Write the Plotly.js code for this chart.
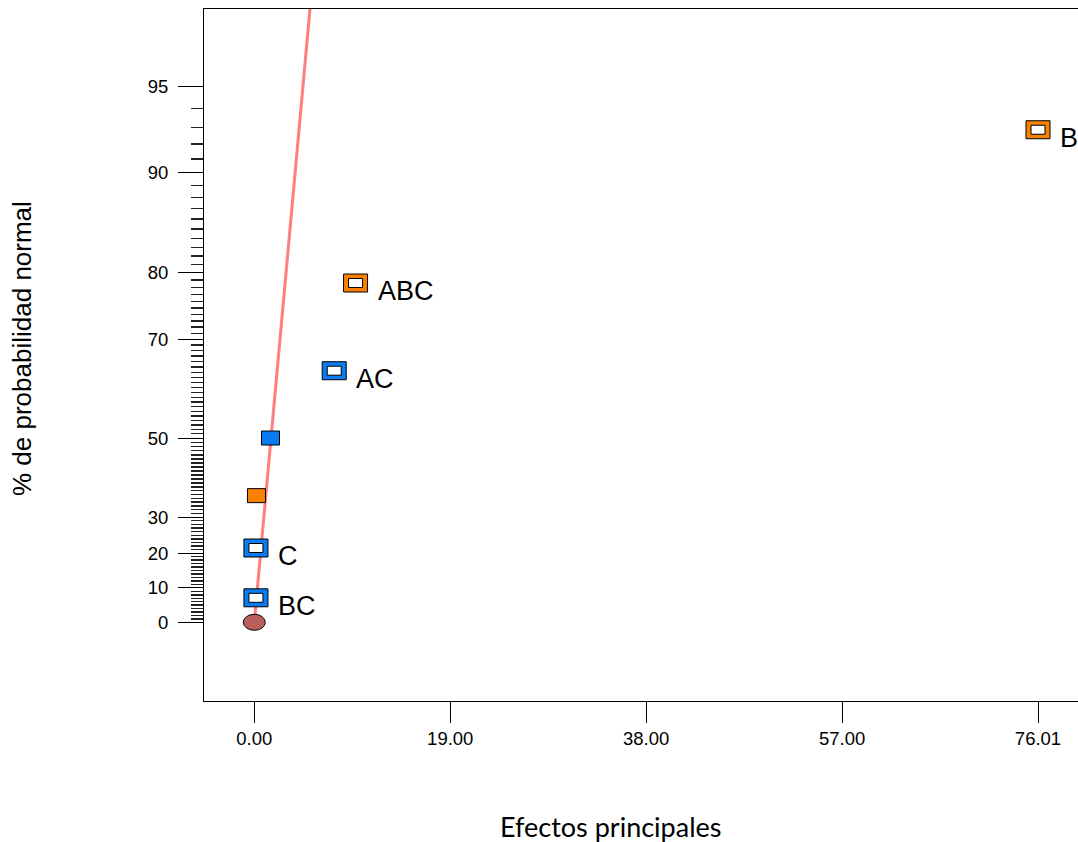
<!DOCTYPE html>
<html>
<head>
<meta charset="utf-8">
<script src="https://cdn.plot.ly/plotly-3.0.1.min.js"></script>
<style>html,body{margin:0;padding:0;background:#fff;}#chart{width:1078px;height:842px;}</style>
</head>
<body>
<div id="chart"></div>
<script>
// ---- data ----
const pointLabels   = ['BC', 'C', '', '', 'AC', 'ABC', 'B'];
const effectValues  = [0.16, 0.16, 0.21, 1.57, 7.75, 9.82, 76.01];
const normalPercent = [7.14, 21.43, 35.71, 50.00, 64.29, 78.57, 92.86];
const effectSign    = ['-', '-', '+', '-', '-', '+', '+'];
const selectedTerm  = [true, true, false, false, true, true, true];
const errorEffect   = [0.0];
const errorPercent  = [0.0];
const fitEffect     = [0.0, 6.0];
const fitPercent    = [0.0, 98.74];
const xTickVals     = [0, 19.0025, 38.005, 57.0075, 76.01];
const xTickText     = ['0.00', '19.00', '38.00', '57.00', '76.01'];
const yMajorPercent = [0, 10, 20, 30, 50, 70, 80, 90, 95];

// ---- half-normal probability scale ----
function invNorm(p) {
  const a = [-3.969683028665376e+01, 2.209460984245205e+02, -2.759285104469687e+02, 1.383577518672690e+02, -3.066479806614716e+01, 2.506628277459239e+00];
  const b = [-5.447609879822406e+01, 1.615858368580409e+02, -1.556989798598866e+02, 6.680131188771972e+01, -1.328068155288572e+01];
  const c = [-7.784894002430293e-03, -3.223964580411365e-01, -2.400758277161838e+00, -2.549732539343734e+00, 4.374664141464968e+00, 2.938163982698783e+00];
  const d = [7.784695709041462e-03, 3.224671290700398e-01, 2.445134137142996e+00, 3.754408661907416e+00];
  const pl = 0.02425, ph = 1 - pl;
  let q, r;
  if (p < pl) { q = Math.sqrt(-2 * Math.log(p)); return (((((c[0]*q+c[1])*q+c[2])*q+c[3])*q+c[4])*q+c[5]) / ((((d[0]*q+d[1])*q+d[2])*q+d[3])*q+1); }
  if (p <= ph) { q = p - 0.5; r = q*q; return (((((a[0]*r+a[1])*r+a[2])*r+a[3])*r+a[4])*r+a[5])*q / (((((b[0]*r+b[1])*r+b[2])*r+b[3])*r+b[4])*r+1); }
  q = Math.sqrt(-2 * Math.log(1 - p));
  return -(((((c[0]*q+c[1])*q+c[2])*q+c[3])*q+c[4])*q+c[5]) / ((((d[0]*q+d[1])*q+d[2])*q+d[3])*q+1);
}
function halfNormal(pct) { return pct <= 0 ? 0 : invNorm((1 + pct / 100) / 2); }

const yPoints = normalPercent.map(halfNormal);
const yMajor = yMajorPercent.map(halfNormal);
const yMinor = [];
for (let p = 1; p < 95; p++) { if (yMajorPercent.indexOf(p) < 0) yMinor.push(halfNormal(p)); }

// ---- styles ----
const BLUE = '#0b7bf2', ORANGE = '#f98000', BROWN = '#bb5e5e';
const colorOf = s => (s === '+' ? ORANGE : BLUE);
const LABEL_FONT = 'Liberation Sans, Arial, sans-serif';

const traces = [
  { type: 'scatter', mode: 'lines', x: fitEffect, y: fitPercent.map(halfNormal),
    line: { color: '#ff7f7f', width: 3 }, hoverinfo: 'skip', showlegend: false },
  { type: 'scatter', mode: 'markers', x: effectValues, y: yPoints, text: pointLabels,
    marker: { size: 18, opacity: 0 }, showlegend: false, hovertemplate: '%{text} %{x}<extra></extra>' }
];

const shapes = [];
function rect(x, y, w, h, fill) {
  shapes.push({ type: 'rect', xref: 'x', yref: 'y', xsizemode: 'pixel', ysizemode: 'pixel',
    xanchor: x, yanchor: y, x0: -w / 2, x1: w / 2, y0: -h / 2, y1: h / 2,
    fillcolor: fill, line: { color: '#000', width: 1 }, layer: 'above' });
}
effectValues.forEach((x, i) => {
  const y = yPoints[i];
  if (selectedTerm[i]) { rect(x, y, 24, 18, colorOf(effectSign[i])); rect(x, y, 14, 9, '#ffffff'); }
  else { rect(x, y, 18, 14, colorOf(effectSign[i])); }
});
errorEffect.forEach((x, i) => {
  shapes.push({ type: 'circle', xref: 'x', yref: 'y', xsizemode: 'pixel', ysizemode: 'pixel',
    xanchor: x, yanchor: halfNormal(errorPercent[i]), x0: -11, x1: 11, y0: -8, y1: 8,
    fillcolor: BROWN, line: { color: '#000', width: 1 }, layer: 'above' });
});

const annotations = [];
pointLabels.forEach((t, i) => {
  if (!t) return;
  annotations.push({ x: effectValues[i], y: yPoints[i], xref: 'x', yref: 'y', text: t, showarrow: false,
    xanchor: 'left', yanchor: 'middle', xshift: 20, yshift: -8,
    font: { family: LABEL_FONT, size: 27, color: '#000' } });
});
annotations.push({ xref: 'paper', yref: 'paper', x: (22 - 204) / 874, y: (701 - 349) / 692,
  text: '% de probabilidad normal', textangle: -90, showarrow: false, xanchor: 'center', yanchor: 'middle',
  font: { family: LABEL_FONT, size: 26, color: '#000' } });
annotations.push({ xref: 'paper', yref: 'paper', x: (610.5 - 204) / 874, y: (701 - 826) / 692,
  text: 'Efectos principales', showarrow: false, xanchor: 'center', yanchor: 'middle',
  font: { family: 'Lato, Carlito, sans-serif', size: 27, color: '#000' } });

const layout = {
  width: 1078, height: 842,
  margin: { l: 204, r: 0, t: 9, b: 141, pad: 0 },
  paper_bgcolor: '#fff', plot_bgcolor: '#fff',
  showlegend: false,
  xaxis: { range: [-4.879, 79.89], tickmode: 'array', tickvals: xTickVals, ticktext: xTickText,
    ticks: 'outside', ticklen: 21, tickwidth: 1, tickcolor: '#000',
    showline: true, linecolor: '#000', linewidth: 1, mirror: true,
    showgrid: false, zeroline: false,
    tickfont: { family: LABEL_FONT, size: 18.5, color: '#000' } },
  yaxis: { range: [-0.2881, 2.2449], tickmode: 'array', tickvals: yMajor, ticktext: yMajorPercent.map(String),
    ticks: 'outside', ticklen: 25, tickwidth: 1, tickcolor: '#000', ticklabelstandoff: 6,
    minor: { tickmode: 'array', tickvals: yMinor, ticks: 'outside', ticklen: 12, tickwidth: 1.4, tickcolor: '#222', showgrid: false },
    showline: true, linecolor: '#000', linewidth: 1, mirror: false,
    showgrid: false, zeroline: false,
    tickfont: { family: LABEL_FONT, size: 18.5, color: '#000' } },
  shapes: shapes,
  annotations: annotations
};

Plotly.newPlot('chart', traces, layout, { displayModeBar: false, staticPlot: true });
</script>
</body>
</html>
